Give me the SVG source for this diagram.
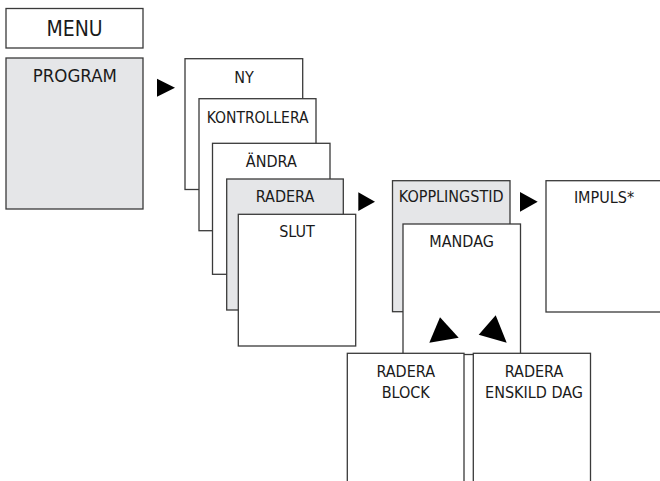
<svg xmlns="http://www.w3.org/2000/svg" width="660" height="481" viewBox="0 0 660 481">
<style>
.b{fill:#ffffff;stroke:#3a3a3a;stroke-width:1.3}
.g{fill:#e5e6e8;stroke:#3a3a3a;stroke-width:1.3}
.t{font-family:"DejaVu Sans Condensed","DejaVu Sans",sans-serif;font-stretch:condensed;font-size:16px;fill:#1a1a1a;text-anchor:middle}
.a{fill:#000000}
</style>
<rect width="660" height="481" fill="#ffffff"/>
<g id="menu"><rect class="b" x="6" y="8.5" width="137" height="39.5"/><text class="t" x="74.5" y="36" style="font-size:21px">MENU</text></g>
<g id="program"><rect class="g" x="6" y="58" width="137" height="151"/><text class="t" x="74.8" y="82" style="font-size:18.5px">PROGRAM</text></g>
<g id="ny"><rect class="b" x="185" y="58.7" width="117.7" height="130.8"/><text class="t" x="244" y="83.3">NY</text></g>
<g id="kontrollera"><rect class="b" x="199" y="98.7" width="117" height="132"/><text class="t" x="257.6" y="122.7" style="font-size:15.5px">KONTROLLERA</text></g>
<g id="andra"><rect class="b" x="212.5" y="143.3" width="117.5" height="131"/><text class="t" x="271.3" y="166.7">ÄNDRA</text></g>
<g id="radera"><rect class="g" x="226.7" y="179" width="116.6" height="131"/><text class="t" x="285" y="202.3">RADERA</text></g>
<g id="slut"><rect class="b" x="238.3" y="214.3" width="117.4" height="131.7"/><text class="t" x="297" y="236.7">SLUT</text></g>
<g id="kopplingstid"><rect class="g" x="392.5" y="180.7" width="117.5" height="131"/><text class="t" x="451.2" y="202.3">KOPPLINGSTID</text></g>
<g id="mandag"><rect class="b" x="403" y="224" width="117.5" height="130.5"/><text class="t" x="461.6" y="247.3">MANDAG</text></g>
<g id="impuls"><rect class="b" x="546" y="180.7" width="120" height="131.3"/><text class="t" x="604" y="202.7">IMPULS*</text></g>
<g id="radera-block"><rect class="b" x="347.3" y="353.3" width="116.7" height="140"/><text class="t" x="405.7" y="377.3">RADERA</text><text class="t" x="405.7" y="397.7">BLOCK</text></g>
<g id="radera-enskild-dag"><rect class="b" x="473.3" y="353.3" width="117.2" height="140"/><text class="t" x="534" y="377.3">RADERA</text><text class="t" x="534" y="397.7">ENSKILD DAG</text></g>
<g id="connectors">
<polygon class="a" points="157,78.7 175,87.7 157,96.7"/>
<polygon class="a" points="358.3,192.3 375,201.7 358.3,211"/>
<polygon class="a" points="520,192 537.7,201.8 520,211.7"/>
<polygon class="a" points="440,317.3 429.3,342.7 458.7,337.7"/>
<polygon class="a" points="495.7,315.3 478.7,334.7 506.7,342.7"/>
</g>
</svg>
